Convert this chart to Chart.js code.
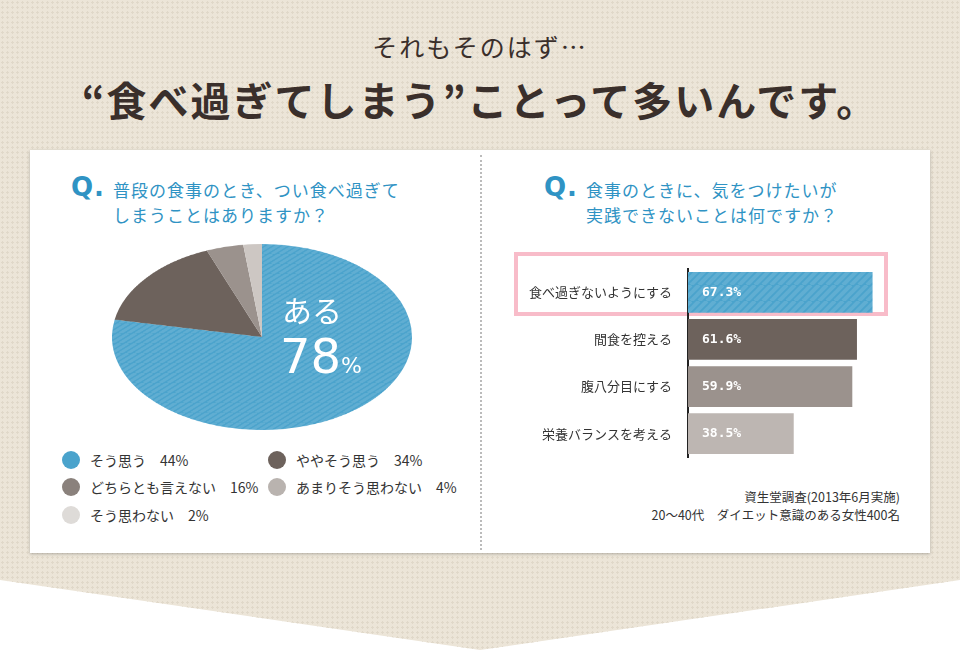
<!DOCTYPE html>
<html><head><meta charset="utf-8">
<script src="https://cdn.jsdelivr.net/npm/chart.js@4"></script>
<style>
body{margin:0;width:960px;height:657px;overflow:hidden;background:#fff;font-family:"Noto Sans CJK JP",sans-serif;position:relative}
#bg{position:absolute;left:0;top:0;width:960px;height:657px;background-color:#ece5d8;background-image:radial-gradient(#e0d8c9 1px,transparent 1.2px);background-size:5px 5px;clip-path:polygon(0 0,960px 0,960px 580px,480px 650px,0 580px)}
.t1{position:absolute;left:0;width:960px;text-align:center;top:28px;font-size:25px;color:#3a2f2b;letter-spacing:2px}
.t2{position:absolute;left:0;width:960px;text-align:center;top:70px;font-size:40px;font-weight:bold;color:#3a2f2b;letter-spacing:2px}
#panel{position:absolute;left:30px;top:150px;width:900px;height:403px;background:#fff;box-shadow:0 1px 3px rgba(0,0,0,.25)}
.q{position:absolute;color:#2f93c4;font-size:17px;line-height:25px;letter-spacing:1px}
.q b{font-size:26px;font-family:"DejaVu Sans";position:absolute;left:-42px;top:-2px}
.leg{position:absolute;font-size:14px;color:#333;display:flex;align-items:center}
.leg i{display:inline-block;width:18px;height:18px;border-radius:50%;margin-right:10px}
.note{position:absolute;right:60px;top:488px;font-size:12.5px;color:#333;text-align:right;line-height:18px}
</style></head><body>
<div id="bg"></div>
<div class="t1">それもそのはず…</div>
<div class="t2">“食べ過ぎてしまう”ことって多いんです。</div>
<div id="panel"></div>
<div style="position:absolute;left:480px;top:155px;height:395px;border-left:2px dotted #bbb"></div>
<div class="q" style="left:113px;top:177px"><b>Q.</b>普段の食事のとき、つい食べ過ぎて<br>しまうことはありますか？</div>
<div class="q" style="left:586px;top:177px"><b>Q.</b>食事のときに、気をつけたいが<br>実践できないことは何ですか？</div>
<div style="position:absolute;left:112px;top:244px;width:300px;height:300px;transform:scaleY(0.62);transform-origin:50% 0">
<canvas id="pie" width="300" height="300"></canvas></div>
<div style="position:absolute;left:282px;top:292px;color:#fff;font-size:30px;line-height:34px">ある</div>
<div style="position:absolute;left:280px;top:328px;color:#fff;font-size:48px;line-height:56px;font-family:'DejaVu Sans'">78<span style="font-size:22px">%</span></div>
<div id="legend"></div>
<div style="position:absolute;left:514px;top:252px;width:366px;height:56px;border:4px solid #f8bcc9"></div>
<div style="position:absolute;left:515px;top:253px;width:392px;height:220px"><canvas id="bar" width="392" height="220"></canvas></div>
<div class="note">資生堂調査(2013年6月実施)<br>20～40代　ダイエット意識のある女性400名</div>
<script>
const pieLabels=["ある","どちらとも言えない","あまりそう思わない","そう思わない"];
const pieValues=[78,16,4,2];
const pieColors=["#4aa3cc","#6d625c","#9b928d","#cdc7c3"];
const legendLabels=["そう思う　44%","ややそう思う　34%","どちらとも言えない　16%","あまりそう思わない　4%","そう思わない　2%"];
const legendColors=["#4aa3cc","#6d625c","#8a817c","#b9b3af","#dedbd8"];
const barLabels=["食べ過ぎないようにする","間食を控える","腹八分目にする","栄養バランスを考える"];
const barValues=[67.3,61.6,59.9,38.5];
const barColors=["#4aa3cc","#6d625c","#9b928d","#bdb6b2"];

function stripe(base){const c=document.createElement('canvas');c.width=c.height=16;const x=c.getContext('2d');x.fillStyle=base;x.fillRect(0,0,16,16);x.strokeStyle='rgba(255,255,255,0.12)';x.lineWidth=4;for(let i=-16;i<=32;i+=8){x.beginPath();x.moveTo(i,0);x.lineTo(i-16,16);x.stroke();}return x.createPattern(c,'repeat');}

const lg=document.getElementById('legend');
const pos=[[62,450],[268,450],[62,477],[268,477],[62,505]];
legendLabels.forEach((l,i)=>{const d=document.createElement('div');d.className='leg';d.style.left=pos[i][0]+'px';d.style.top=pos[i][1]+'px';d.innerHTML=`<i style="background:${legendColors[i]}"></i>${l}`;lg.appendChild(d);});

new Chart(document.getElementById('pie'),{type:'pie',data:{labels:pieLabels,datasets:[{data:pieValues,backgroundColor:pieValues.map((v,i)=>i==0?stripe(pieColors[0]):pieColors[i]),borderWidth:0}]},
options:{responsive:false,animation:false,plugins:{legend:{display:false},tooltip:{enabled:false}}}});

new Chart(document.getElementById('bar'),{type:'bar',data:{labels:barLabels,datasets:[{data:barValues,backgroundColor:barColors.map((c,i)=>i==0?stripe(c):c),barThickness:40}]},
options:{indexAxis:'y',responsive:false,animation:false,layout:{padding:0},
plugins:{legend:{display:false},tooltip:{enabled:false}},
scales:{x:{display:false,min:0,max:80},
y:{afterFit:s=>{s.width=173},grid:{display:false},border:{color:'#222',width:2},ticks:{color:'#333',font:{size:13,family:'Noto Sans CJK JP'},padding:8}}}},
plugins:[{id:'v',afterDatasetsDraw(ch){const x=ch.ctx;x.save();x.fillStyle='#fff';x.font='bold 13px "DejaVu Sans Mono"';x.textBaseline='middle';ch.getDatasetMeta(0).data.forEach((b,i)=>{x.fillText(barValues[i].toFixed(1)+'%',b.base+14,b.y)});x.restore();}}]});
</script>
</body></html>
